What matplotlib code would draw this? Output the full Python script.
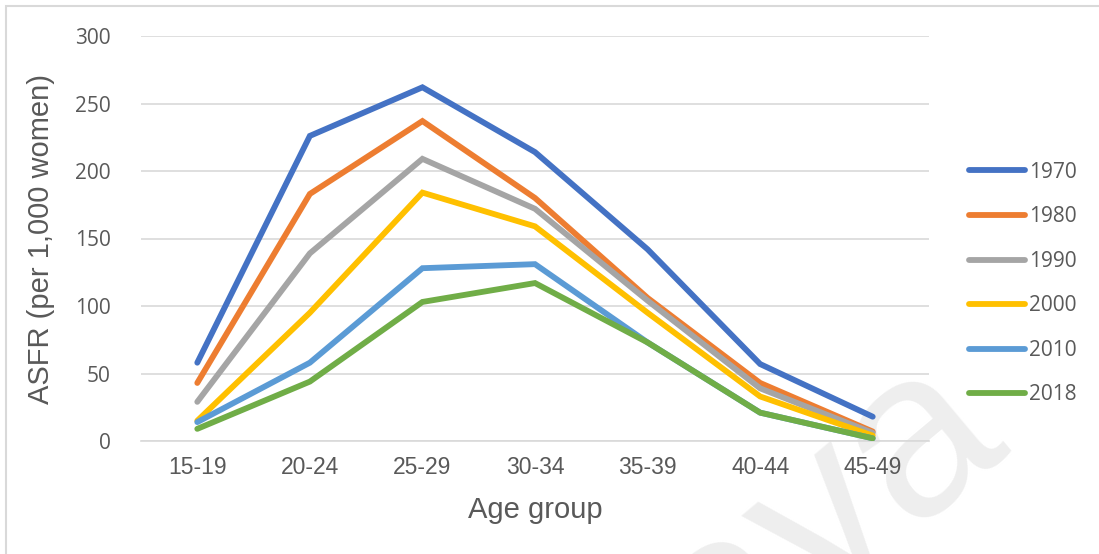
import matplotlib.pyplot as plt
from matplotlib.patches import Rectangle

# Age-specific fertility rates (per 1,000 women) by age group
age_groups = ['15-19', '20-24', '25-29', '30-34', '35-39', '40-44', '45-49']
asfr_1970 = [58, 226, 262, 214, 142, 57, 18]
asfr_1980 = [43, 183, 237, 180, 106, 43, 7]
asfr_1990 = [29, 139, 209, 172, 104, 39, 6]
asfr_2000 = [15, 95, 184, 159, 95, 33, 4]
asfr_2010 = [14, 58, 128, 131, 73, 21, 2]
asfr_2018 = [9, 44, 103, 117, 73, 21, 2]

years = ['1970', '1980', '1990', '2000', '2010', '2018']
series = [asfr_1970, asfr_1980, asfr_1990, asfr_2000, asfr_2010, asfr_2018]
colors = ['#4472C4', '#ED7D31', '#A5A5A5', '#FFC000', '#5B9BD5', '#70AD47']
y_ticks = [0, 50, 100, 150, 200, 250, 300]

text_color = '#595959'
grid_color = '#D9D9D9'

fig = plt.figure(figsize=(10.99, 5.54), dpi=100)
ax = fig.add_axes([141 / 1099, 1 - 441 / 554, 788 / 1099, 405 / 554])
ax.patch.set_alpha(0)

x = range(len(age_groups))
for year, values, color in zip(years, series, colors):
    ax.plot(x, values, color=color, linewidth=4.2, label=year,
            solid_capstyle='round', solid_joinstyle='miter', zorder=3)

ax.set_xlim(-0.5, len(age_groups) - 0.5)
ax.set_ylim(0, 300)
ax.set_yticks(y_ticks)
ax.set_yticklabels([str(v) for v in y_ticks], fontfamily='Open Sans',
                   fontsize=15, color=text_color)
ax.set_xticks(list(x))
ax.set_xticklabels(age_groups, fontfamily='Liberation Sans', fontsize=16.5,
                   color=text_color)
ax.tick_params(axis='y', length=0, pad=22)
ax.tick_params(axis='x', length=0, pad=11)

ax.grid(axis='y', color=grid_color, linewidth=1.2, zorder=0)
ax.set_axisbelow(True)
for side in ['top', 'right', 'left']:
    ax.spines[side].set_visible(False)
ax.spines['bottom'].set_color(grid_color)
ax.spines['bottom'].set_linewidth(1.2)

ax.set_xlabel('Age group', fontfamily='Liberation Sans', fontsize=21,
              color=text_color, labelpad=12)
ax.set_ylabel('ASFR (per 1,000 women)', fontfamily='Liberation Sans',
              fontsize=21, color=text_color, labelpad=14)

leg = ax.legend(loc='upper left', bbox_to_anchor=(1.04, 0.71), frameon=False,
                prop={'family': 'Open Sans', 'size': 15},
                handlelength=2.7, handletextpad=0.2, labelspacing=1.13,
                borderaxespad=0)
for text in leg.get_texts():
    text.set_color(text_color)
for line in leg.get_lines():
    line.set_linewidth(4.2)
    line.set_solid_capstyle('round')

# light chart-area border
fig.patches.append(Rectangle((6 / 1099, -0.1), 1.2, 1.1 - 6 / 554,
                             transform=fig.transFigure, fill=False,
                             edgecolor=grid_color, linewidth=1.5))

# faint watermark in the lower right corner, behind the chart
fig.text(0.751, 0.061, 'aya', fontsize=170, fontfamily='Liberation Sans',
         color='#EEEEEE', rotation=40, ha='center', va='center', zorder=-1)

fig.savefig('out.png', dpi=100)
